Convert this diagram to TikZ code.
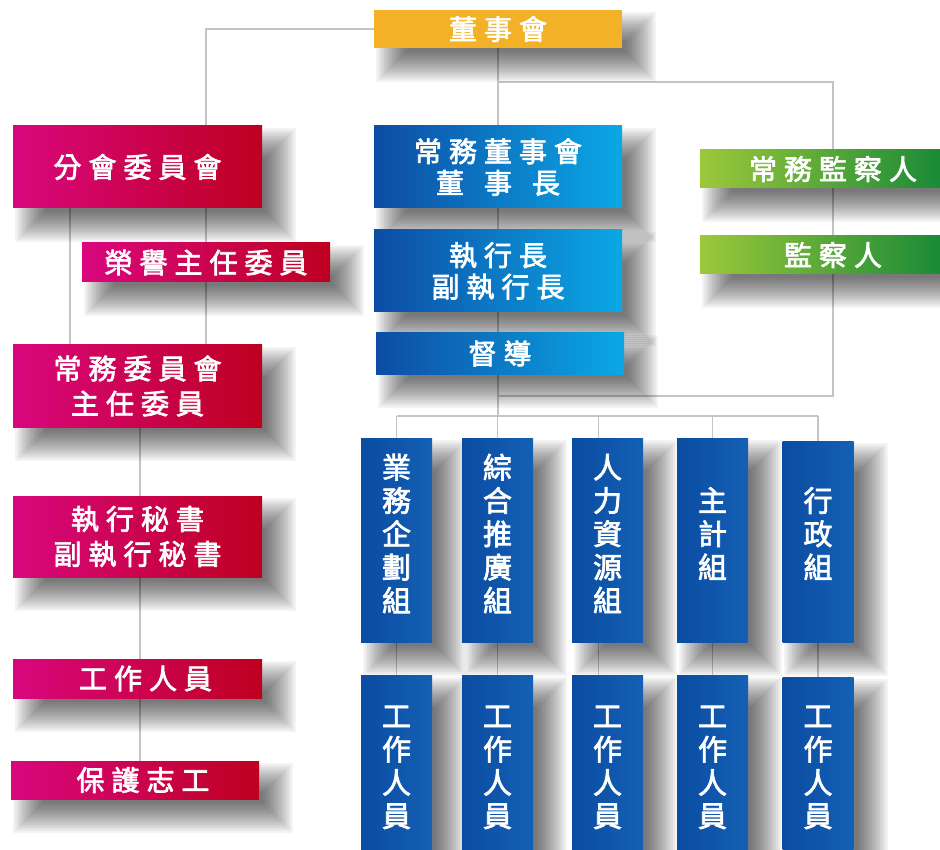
\documentclass[tikz,border=0pt]{standalone}
\usepackage{fontspec}
\usetikzlibrary{calc}
\newfontfamily\cjk{Noto Sans CJK TC}[LetterSpace=25,FakeBold=2.5]
\newfontfamily\cjkv{Noto Sans CJK TC}[FakeBold=2.5]
\newcommand\hfont{\fontsize{28}{33}\selectfont\cjk}
\newcommand\bfontb{\fontsize{28}{31.5}\selectfont\cjk}
\newcommand\pfont{\fontsize{28}{35}\selectfont\cjk}
\newcommand\vfont{\fontsize{29}{33.3}\selectfont\cjkv}
\definecolor{lineC}{HTML}{C4C4C4}
\definecolor{orangeC}{HTML}{F2B126}
\definecolor{pinkL}{HTML}{D9077E}
\definecolor{pinkR}{HTML}{BE0020}
\definecolor{blueL}{HTML}{0D4CA4}
\definecolor{blueR}{HTML}{0BA8E6}
\definecolor{greenL}{HTML}{9CC83A}
\definecolor{greenR}{HTML}{0C8436}
\definecolor{colL}{HTML}{0A4CA2}
\definecolor{colR}{HTML}{1460B4}
\pgfdeclarelayer{bg}
\pgfdeclarelayer{shadow}
\pgfsetlayers{bg,shadow,main}
\newcommand\boxshadow[1]{%
  \foreach \e in {16,14,...,-14}{%
    \fill[black,opacity=0.042] ($(#1.north west)+(18-\e,18-\e)$) rectangle ($(#1.south east)+(18+\e,18+\e)$);
  }}
\begin{document}
\begin{tikzpicture}[x=1pt,y=-1pt,
  conn/.style={draw=lineC, line width=1.3pt},
  base/.style={inner sep=0pt, text=white, align=center, font=\hfont},
  orangebox/.style={base, fill=orangeC},
  pinkbox/.style={base, left color=pinkL, right color=pinkR, font=\pfont},
  bluebox/.style={base, left color=blueL, right color=blueR, font=\bfontb},
  greenbox/.style={base, left color=greenL, right color=greenR},
  colbox/.style={base, left color=colL, right color=colR, minimum width=71pt},
  vtext/.style={inner sep=0pt, text=white, align=center, font=\vfont},
]
\useasboundingbox (0,0) rectangle (940,850);

% top
\node[orangebox, minimum width=248pt, minimum height=38pt] (board) at (498,29) {董事會};

% left column
\node[pinkbox, minimum width=249pt, minimum height=82pt] (fenhui) at (137.5,167) {分會委員會};
\node[pinkbox, minimum width=248pt, minimum height=39pt] (rongyu) at (206,262.5) {榮譽主任委員};
\node[pinkbox, minimum width=249pt, minimum height=82pt] (cwwy) at (137.5,386) {常務委員會\\主任委員};
\node[pinkbox, minimum width=249pt, minimum height=81pt] (zxms) at (137.5,536.5) {執行秘書\\副執行秘書};
\node[pinkbox, minimum width=249pt, minimum height=39pt] (gzry) at (137.5,678.5) {\hspace*{16pt}工作人員};
\node[pinkbox, minimum width=248pt, minimum height=38pt] (bhzg) at (135,780) {\hspace*{16pt}保護志工};

% centre column
\node[bluebox, minimum width=248pt, minimum height=82pt] (cwdsh) at (498,167) {常務董事會\\董\hspace{20pt}事\hspace{20pt}長};
\node[bluebox, minimum width=248pt, minimum height=82pt] (zxz) at (498,271) {執行長\\副執行長};
\node[bluebox, minimum width=248pt, minimum height=41pt] (dd) at (500,353.5) {督導};

% right column
\node[greenbox, minimum width=266pt, minimum height=38pt] (jc1) at (833,169) {常務監察人};
\node[greenbox, minimum width=266pt, minimum height=38pt] (jc2) at (833,255) {監察人};

% groups
\node[colbox, minimum height=204pt] (g1) at (396.5,540) {};
\node[colbox, minimum height=204pt] (g2) at (497.5,540) {};
\node[colbox, minimum height=204pt] (g3) at (607.5,540) {};
\node[colbox, minimum height=204pt] (g4) at (712.5,540) {};
\node[colbox, minimum height=201pt] (g5) at (818,541.5) {};
\node[vtext] (g1t) at (396.5,533.5) {業\\務\\企\\劃\\組};
\node[vtext] (g2t) at (497.5,533.5) {綜\\合\\推\\廣\\組};
\node[vtext] (g3t) at (607.5,533.5) {人\\力\\資\\源\\組};
\node[vtext] (g4t) at (712.5,533.5) {主\\計\\組};
\node[vtext] (g5t) at (818,533.5) {行\\政\\組};

% staff
\node[colbox, minimum height=175pt] (w1) at (396.5,762.5) {};
\node[colbox, minimum height=175pt] (w2) at (497.5,762.5) {};
\node[colbox, minimum height=175pt] (w3) at (607.5,762.5) {};
\node[colbox, minimum height=175pt] (w4) at (712.5,762.5) {};
\node[colbox, minimum height=173pt] (w5) at (818,763.5) {};
\foreach \n/\x in {w1t/396.5, w2t/497.5, w3t/607.5, w4t/712.5, w5t/818}
  \node[vtext] (\n) at (\x,767.5) {工\\作\\人\\員};

\coordinate (rt) at (833,82);
\coordinate (rb) at (833,396);
\coordinate (bus) at (498,416);
\coordinate (lx) at (70,0);
\coordinate (px) at (140,0);
\coordinate (g3x) at (598.5,0);

\begin{pgfonlayer}{shadow}
\foreach \n in {board,fenhui,rongyu,cwwy,zxms,gzry,bhzg,cwdsh,zxz,dd,jc1,jc2,g1,g2,g3,g4,g5,w1,w2,w3,w4,w5}
  {\boxshadow{\n}}
\end{pgfonlayer}

\begin{pgfonlayer}{bg}
\fill[white] (0,0) rectangle (940,850);
% left branch
\draw[conn] (board.west) -| (rongyu.center |- fenhui.north);
\draw[conn] (rongyu.center |- fenhui.south) -- (rongyu.center |- cwwy.north);
\draw[conn] (lx |- fenhui.south) -- (lx |- cwwy.north);
\draw[conn] (px |- cwwy.south) -- (px |- zxms.north);
\draw[conn] (px |- zxms.south) -- (px |- gzry.north);
\draw[conn] (px |- gzry.south) -- (px |- bhzg.north);
% centre
\draw[conn] (board.south) -- (cwdsh.north);
\draw[conn] (cwdsh.south) -- (zxz.north);
\draw[conn] (zxz.south) -- (zxz.south |- dd.north);
\draw[conn] (zxz.south |- dd.south) -- (bus);
% supervisors bracket
\draw[conn] (board.south |- rt) -- (rt) -- (rb) -- (board.south |- rb);
% bus
\draw[conn] (g1.north |- bus) -- (g5.north |- bus);
\draw[conn] (g1.north |- bus) -- (g1.north);
\draw[conn] (g2.north |- bus) -- (g2.north);
\draw[conn] (g3x |- bus) -- (g3x |- g3.north);
\draw[conn] (g4.north |- bus) -- (g4.north);
\draw[conn] (g5.north |- bus) -- (g5.north);
% groups to staff
\draw[conn] (g1.south) -- (w1.north);
\draw[conn] (g2.south) -- (w2.north);
\draw[conn] (g3x |- g3.south) -- (g3x |- w3.north);
\draw[conn] (g4.south) -- (w4.north);
\draw[conn] (g5.south) -- (w5.north);
\end{pgfonlayer}
\end{tikzpicture}
\end{document}
